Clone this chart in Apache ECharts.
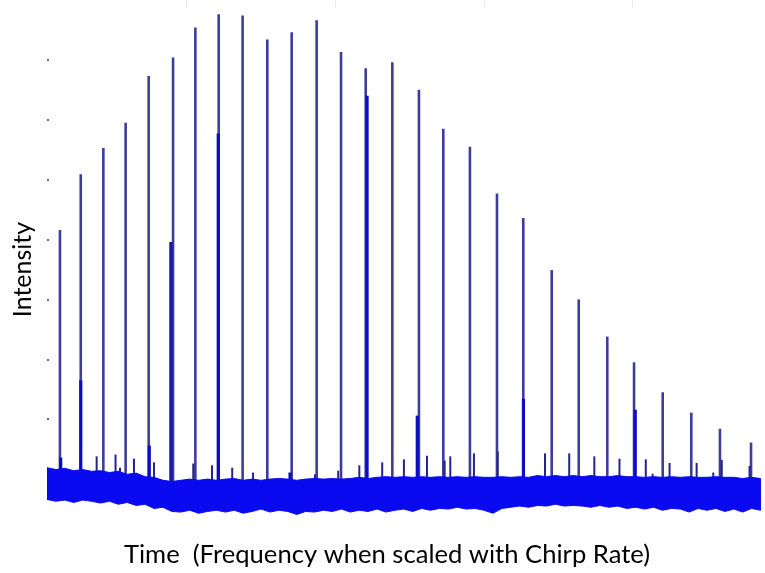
<!DOCTYPE html>
<html>
<head>
<meta charset="utf-8">
<script src="https://cdn.jsdelivr.net/npm/echarts@6/dist/echarts.min.js"></script>
<style>
html,body{margin:0;padding:0;background:#fff;}
#chart{width:765px;height:573px;}
</style>
</head>
<body>
<div id="chart"></div>
<script>
// Main comb spikes: time position and peak intensity (arbitrary units)
const spikeTime = [8.7, 22.7, 37.9, 52.9, 68.4, 84.8, 99.8, 115.5, 131.6, 148.2, 164.6, 181.4, 197.8, 214.4,
  232.3, 250.2, 266.6, 284.5, 302.7, 320.4, 339.5, 357.7, 376.9, 394.9, 414.2, 433.4, 452.7, 473.6];
const spikeIntensity = [51.6, 60.9, 65.3, 69.5, 77.3, 80.4, 85.4, 87.6, 87.4, 83.4, 84.6, 86.6, 81.3, 78.6,
  79.6, 75.0, 68.5, 65.5, 57.7, 53.6, 44.9, 40.0, 33.8, 29.5, 24.5, 21.1, 18.4, 16.1];

// Secondary (thick, brighter) peaks
const secTime = [9.2, 22.7, 68.8, 115.2, 163.5, 215.3, 249.1, 320.5, 395.7];
const secIntensity = [13.6, 26.5, 15.6, 67.7, 11.1, 74.0, 20.6, 23.4, 21.6];

// Secondary dark peak
const darkTime = [83.4];
const darkIntensity = [49.6];

// Small side peaks just above the noise floor
const smallTime = [33.4, 46.1, 49.1, 58.5, 72.0, 98.4, 111.0, 124.6, 138.6, 180.3, 195.9, 210.1, 225.5, 240.1,
  255.6, 267.5, 271.3, 287.2, 303.2, 335.0, 351.3, 368.2, 385.1, 402.8, 407.4, 418.8, 437.0, 448.2, 453.9, 472.6];
const smallIntensity = [13.8, 14.1, 11.9, 13.4, 12.8, 12.6, 12.3, 11.9, 11.1, 10.8, 11.4, 12.3, 12.8, 13.3,
  13.9, 13.1, 13.8, 14.3, 14.6, 14.3, 14.3, 13.8, 13.4, 13.3, 10.9, 12.7, 12.7, 11.1, 13.2, 12.2];

// Noise floor envelope, sampled every 6 time units (last sample at 483)
const noiseStep = 6;
const noiseUpper = [11.9,11.6,11.8,11.4,11.6,11.3,11.4,11.1,11.3,10.8,
  11.0,10.4,10.3,9.8,9.6,9.8,10.0,9.8,10.0,9.8,
  10.0,10.1,9.8,10.0,9.8,10.0,10.1,10.0,9.8,10.0,
  10.1,10.0,10.1,10.0,10.1,10.3,10.1,10.3,10.4,10.3,
  10.4,10.3,10.4,10.3,10.4,10.3,10.4,10.3,10.4,10.3,
  10.3,10.4,10.3,10.4,10.3,10.6,10.4,10.6,10.4,10.6,
  10.4,10.6,10.4,10.4,10.6,10.4,10.4,10.3,10.4,10.3,
  10.4,10.3,10.4,10.3,10.3,10.4,10.3,10.3,10.1,10.3,
  10.1];
const noiseLower = [6.6,6.3,6.5,6.1,6.5,6.3,6.0,6.3,5.8,6.1,
  5.6,5.8,5.1,5.3,4.6,4.5,4.8,4.3,4.6,4.8,
  4.5,4.8,4.3,4.6,5.0,4.5,4.8,4.6,4.1,4.6,
  4.5,4.8,4.6,5.0,4.5,4.8,4.6,5.0,4.5,4.8,
  5.0,4.6,5.1,4.8,5.1,5.0,5.3,5.0,5.1,4.8,
  4.3,5.1,5.3,5.5,5.3,5.6,5.5,5.8,5.5,5.6,
  5.5,5.3,5.6,5.3,5.5,5.1,5.3,5.0,5.3,4.8,
  5.1,5.0,4.5,5.1,4.8,5.1,4.6,5.0,4.5,5.1,
  4.8];

const spikeBase = 7;   // spikes rise from inside the noise floor
const xMin = 0, xMax = 483, yMin = 0, yMax = 90;
const yTicks = [10, 20, 30, 40, 50, 60, 70, 80];
const topTicks = [94, 194, 294, 394];

const noiseTime = noiseUpper.map((_, i) => Math.min(i * noiseStep, xMax));

function spikeRenderer(color, width) {
  return function (params, api) {
    const x = api.value(0), y = api.value(1);
    const p0 = api.coord([x, spikeBase]);
    const p1 = api.coord([x, y]);
    return {
      type: 'line',
      shape: { x1: p0[0], y1: p0[1], x2: p1[0], y2: p1[1] },
      style: { stroke: color, lineWidth: width, lineCap: 'butt' }
    };
  };
}

function bandRenderer(params, api) {
  const pts = [];
  for (let i = 0; i < noiseTime.length; i++) pts.push(api.coord([noiseTime[i], noiseUpper[i]]));
  for (let i = noiseTime.length - 1; i >= 0; i--) pts.push(api.coord([noiseTime[i], noiseLower[i]]));
  return {
    type: 'polygon',
    shape: { points: pts },
    style: { fill: '#0a0af0', stroke: '#0a0af0', lineWidth: 1 }
  };
}

const chart = echarts.init(document.getElementById('chart'), null, { renderer: 'canvas' });
chart.setOption({
  animation: false,
  backgroundColor: '#ffffff',
  grid: { left: 47, right: 0, top: 0, bottom: 30, containLabel: false },
  xAxis: [{
    type: 'value', min: xMin, max: xMax, position: 'bottom',
    name: 'Time  (Frequency when scaled with Chirp Rate)',
    nameLocation: 'middle', nameGap: 3,
    nameTextStyle: { fontFamily: 'Lato', fontSize: 25.6, color: '#000', verticalAlign: 'top', padding: [0, 38, 0, 0] },
    axisLine: { show: false }, axisTick: { show: false }, axisLabel: { show: false }, splitLine: { show: false }
  }, {
    type: 'value', min: xMin, max: xMax, position: 'top',
    axisLine: { show: false },
    axisTick: { show: true, inside: true, length: 8, customValues: topTicks, lineStyle: { color: '#ececec', width: 1 } },
    axisLabel: { show: false }, splitLine: { show: false }
  }],
  yAxis: {
    type: 'value', min: yMin, max: yMax,
    name: 'Intensity', nameLocation: 'middle', nameGap: 12, nameRotate: 90,
    nameTextStyle: { fontFamily: 'Lato', fontSize: 25, color: '#000' },
    axisLine: { show: false },
    axisTick: { show: true, inside: true, length: 2, customValues: yTicks, lineStyle: { color: '#666', width: 2 } },
    axisLabel: { show: false }, splitLine: { show: false }
  },
  series: [
    {
      type: 'custom', name: 'main', z: 2, clip: true,
      renderItem: spikeRenderer('#3d3d98', 2.6),
      encode: { x: 0, y: 1 },
      data: spikeTime.map((t, i) => [t, spikeIntensity[i]])
    },
    {
      type: 'custom', name: 'small', z: 2, clip: true,
      renderItem: spikeRenderer('#24248c', 2),
      encode: { x: 0, y: 1 },
      data: smallTime.map((t, i) => [t, smallIntensity[i]])
    },
    {
      type: 'custom', name: 'secondary', z: 3, clip: true,
      renderItem: spikeRenderer('#0c0cc8', 3.2),
      encode: { x: 0, y: 1 },
      data: secTime.map((t, i) => [t, secIntensity[i]])
    },
    {
      type: 'custom', name: 'secondaryDark', z: 3, clip: true,
      renderItem: spikeRenderer('#1a1a9c', 3.4),
      encode: { x: 0, y: 1 },
      data: darkTime.map((t, i) => [t, darkIntensity[i]])
    },
    {
      type: 'custom', name: 'noise', z: 4, clip: true,
      renderItem: bandRenderer,
      encode: { x: 0, y: 1 },
      data: [[xMin, noiseUpper[0]]]
    }
  ]
});
</script>
</body>
</html>
